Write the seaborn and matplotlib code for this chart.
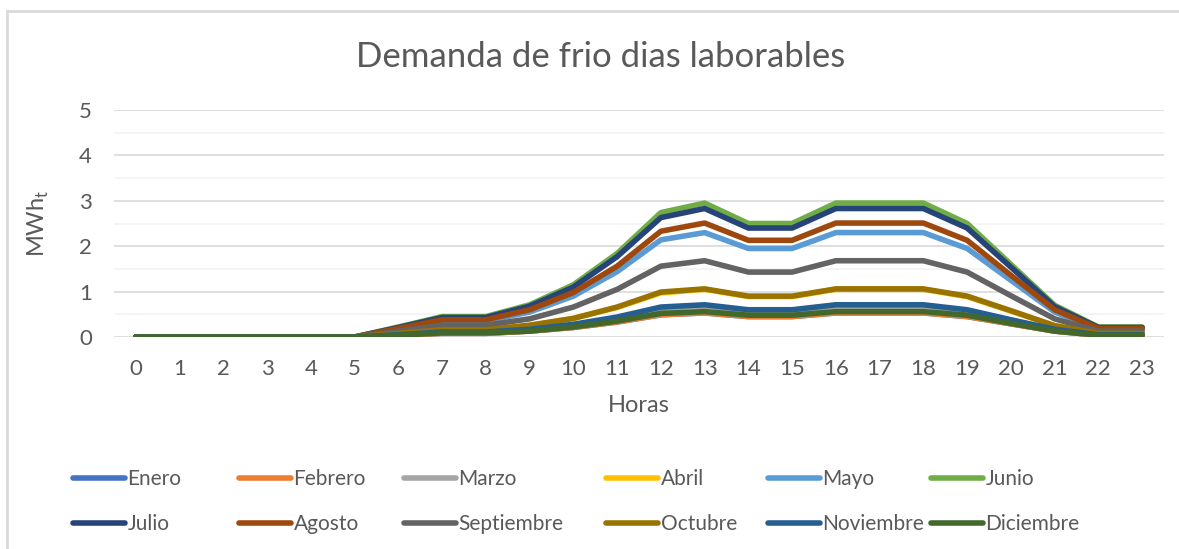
import pandas as pd
import seaborn as sns
import matplotlib.pyplot as plt
from matplotlib.patches import Rectangle

"""Datos: demanda horaria (MWh_t) por mes"""
horas = list(range(24))
meses = ['Enero', 'Febrero', 'Marzo', 'Abril', 'Mayo', 'Junio',
         'Julio', 'Agosto', 'Septiembre', 'Octubre', 'Noviembre', 'Diciembre']

enero = [0, 0, 0, 0, 0, 0, 0.04, 0.08, 0.08, 0.13, 0.21, 0.33, 0.49, 0.53, 0.45, 0.45, 0.53, 0.53, 0.53, 0.45, 0.29, 0.13, 0.04, 0.04]
febrero = [0, 0, 0, 0, 0, 0, 0.04, 0.08, 0.08, 0.13, 0.21, 0.33, 0.49, 0.53, 0.45, 0.45, 0.53, 0.53, 0.53, 0.45, 0.29, 0.13, 0.04, 0.04]
marzo = [0, 0, 0, 0, 0, 0, 0.05, 0.10, 0.10, 0.16, 0.26, 0.42, 0.63, 0.68, 0.58, 0.58, 0.68, 0.68, 0.68, 0.58, 0.37, 0.16, 0.05, 0.05]
abril = [0, 0, 0, 0, 0, 0, 0.08, 0.16, 0.16, 0.25, 0.41, 0.65, 0.97, 1.05, 0.89, 0.89, 1.05, 1.05, 1.05, 0.89, 0.57, 0.25, 0.08, 0.08]
mayo = [0, 0, 0, 0, 0, 0, 0.17, 0.35, 0.35, 0.55, 0.90, 1.44, 2.14, 2.30, 1.95, 1.95, 2.30, 2.30, 2.30, 1.95, 1.25, 0.55, 0.17, 0.17]
junio = [0, 0, 0, 0, 0, 0, 0.22, 0.45, 0.45, 0.71, 1.15, 1.84, 2.74, 2.95, 2.50, 2.50, 2.95, 2.95, 2.95, 2.50, 1.60, 0.70, 0.22, 0.22]
julio = [0, 0, 0, 0, 0, 0, 0.21, 0.43, 0.43, 0.68, 1.10, 1.77, 2.63, 2.83, 2.40, 2.40, 2.83, 2.83, 2.83, 2.40, 1.54, 0.67, 0.21, 0.21]
agosto = [0, 0, 0, 0, 0, 0, 0.19, 0.38, 0.38, 0.60, 0.98, 1.56, 2.33, 2.51, 2.13, 2.13, 2.51, 2.51, 2.51, 2.13, 1.36, 0.60, 0.19, 0.19]
septiembre = [0, 0, 0, 0, 0, 0, 0.13, 0.26, 0.26, 0.40, 0.66, 1.05, 1.56, 1.68, 1.43, 1.43, 1.68, 1.68, 1.68, 1.43, 0.91, 0.40, 0.13, 0.13]
octubre = [0, 0, 0, 0, 0, 0, 0.08, 0.16, 0.16, 0.26, 0.41, 0.66, 0.99, 1.06, 0.90, 0.90, 1.06, 1.06, 1.06, 0.90, 0.58, 0.25, 0.08, 0.08]
noviembre = [0, 0, 0, 0, 0, 0, 0.05, 0.11, 0.11, 0.17, 0.28, 0.44, 0.66, 0.71, 0.60, 0.60, 0.71, 0.71, 0.71, 0.60, 0.38, 0.17, 0.05, 0.05]
diciembre = [0, 0, 0, 0, 0, 0, 0.04, 0.09, 0.09, 0.13, 0.22, 0.35, 0.52, 0.56, 0.48, 0.48, 0.56, 0.56, 0.56, 0.48, 0.30, 0.13, 0.04, 0.04]

series = [enero, febrero, marzo, abril, mayo, junio,
          julio, agosto, septiembre, octubre, noviembre, diciembre]
colores = ['#4472C4', '#ED7D31', '#A5A5A5', '#FFC000', '#5B9BD5', '#70AD47',
           '#264478', '#9E480E', '#636363', '#997300', '#255E91', '#43682B']

df = pd.DataFrame([(h, m, v) for m, s in zip(meses, series) for h, v in zip(horas, s)],
                  columns=['hora', 'mes', 'valor'])

sns.set_style('white')
plt.rcParams['font.family'] = ['Lato', 'DejaVu Sans']
gris = '#595959'

fig = plt.figure(figsize=(11.79, 5.49), dpi=100)
ax = fig.add_axes([114 / 1179, 1 - 337 / 549, 1050 / 1179, 227 / 549])

"""Marco del grafico"""
fig.patches.append(Rectangle((7 / 1179, -0.1), 1.2, 1 - 11 / 549 + 0.1, transform=fig.transFigure,
                             fill=False, edgecolor='#D9D9D9', linewidth=2))

sns.lineplot(data=df, x='hora', y='valor', hue='mes', hue_order=meses,
             palette=dict(zip(meses, colores)), linewidth=4, legend=False, ax=ax,
             solid_joinstyle='round', solid_capstyle='round')

ax.set_xlim(-0.5, 23.5)
ax.set_ylim(0, 5)
ax.set_xticks(horas)
ax.set_yticks(range(6))
ax.set_yticks([0.5, 1.5, 2.5, 3.5, 4.5], minor=True)
ax.grid(True, which='major', axis='y', color='#D9D9D9', linewidth=1.2)
ax.grid(True, which='minor', axis='y', color='#F2F2F2', linewidth=1.2)
ax.grid(False, axis='x')
ax.set_axisbelow(True)
for s in ax.spines.values():
    s.set_visible(False)
ax.tick_params(which='both', length=0, labelsize=16, labelcolor=gris)
ax.tick_params(axis='x', pad=16)
ax.tick_params(axis='y', pad=16)

ax.set_xlabel('Horas', fontsize=17, color=gris, labelpad=11)
ax.set_ylabel('MWh$_\\mathregular{t}$', fontsize=17, color=gris, labelpad=20)

fig.text(601 / 1179, 1 - 57 / 549, 'Demanda de frio dias laborables',
         ha='center', va='center', fontsize=25, color=gris)

"""Leyenda: seis columnas colocadas como en el original"""
lineas = ax.get_lines()
xs = [73, 239, 404, 606, 768, 931]
for i, x in enumerate(xs):
    leg = fig.legend(handles=[lineas[i], lineas[i + 6]], labels=[meses[i], meses[i + 6]],
                     loc='center left', bbox_to_anchor=(x / 1179, 1 - 501.5 / 549),
                     frameon=False, fontsize=15, handlelength=2.5, handletextpad=0.12,
                     borderpad=0, borderaxespad=0, labelspacing=1.2, labelcolor=gris)

fig.savefig('out.png', dpi=100)
